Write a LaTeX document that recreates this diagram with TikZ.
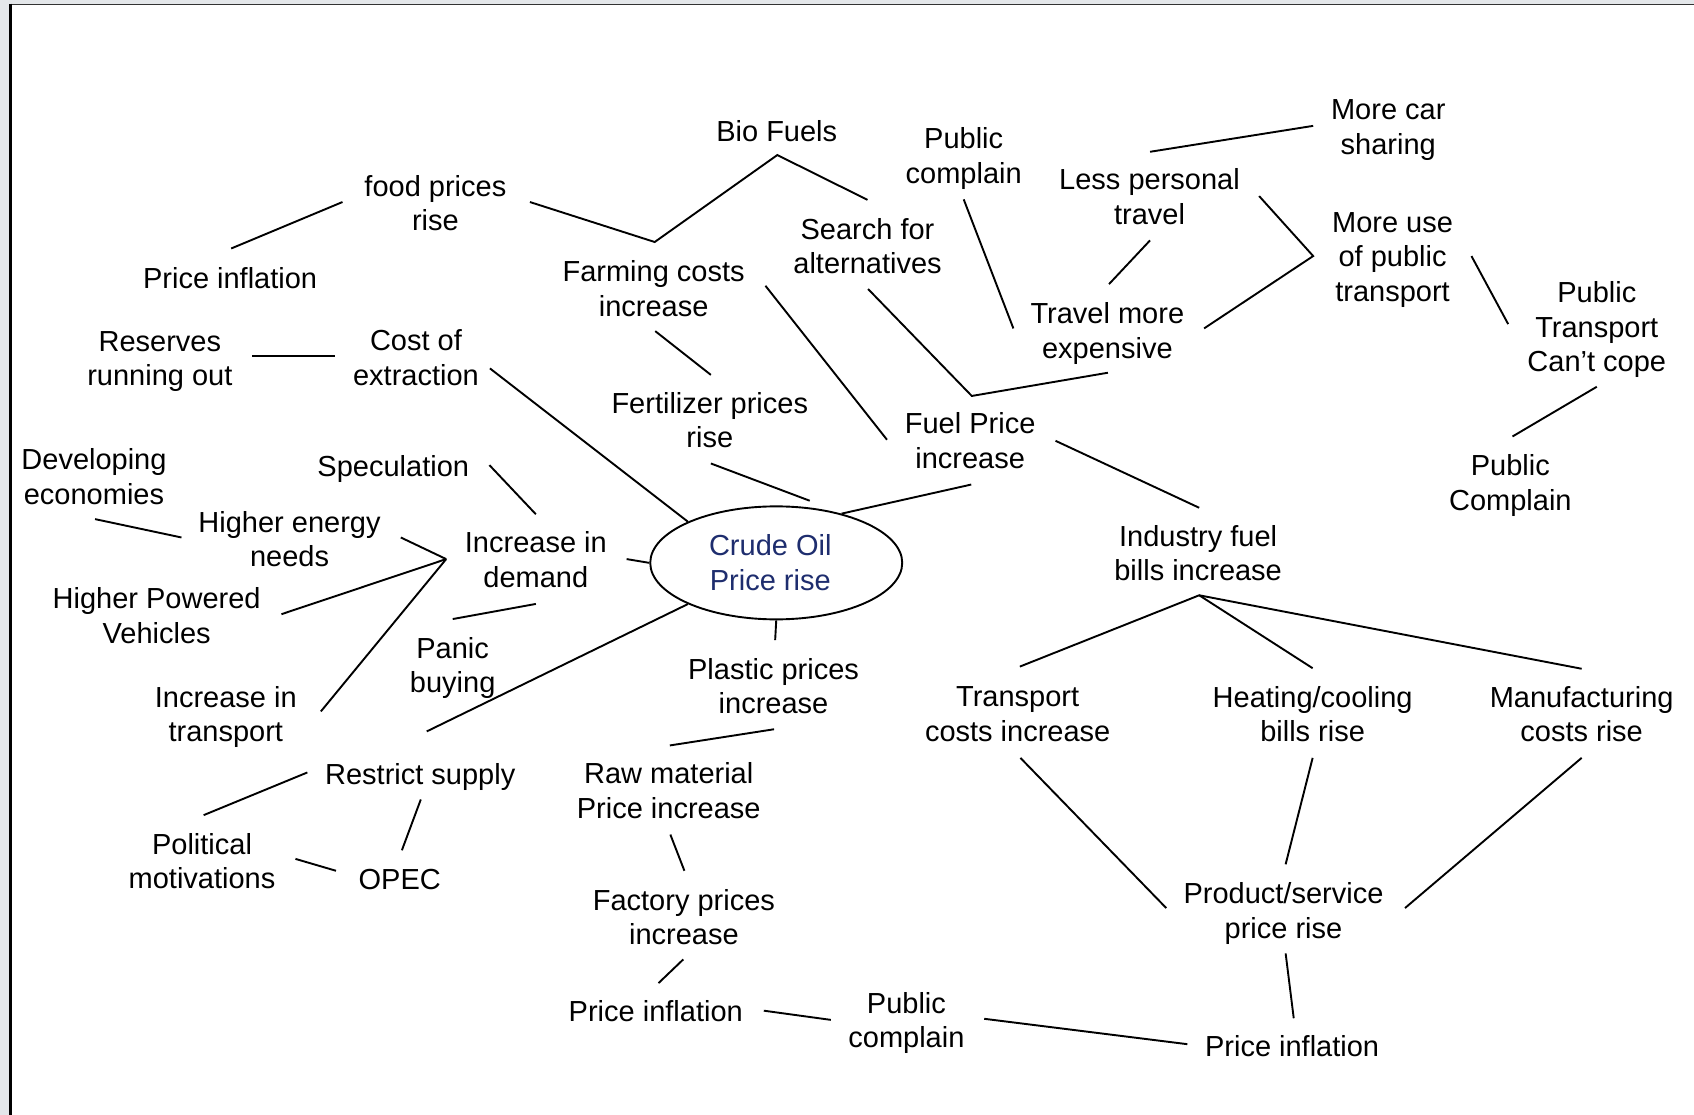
\documentclass[tikz,border=0pt]{standalone}
\usepackage{fontspec}
\setmainfont{Liberation Sans}
\usetikzlibrary{shapes.geometric}
\definecolor{framegray}{RGB}{228,231,234}
\definecolor{oilblue}{RGB}{30,45,110}
\begin{document}
\begin{tikzpicture}[x=1.0804pt,y=-1.0804pt,
  lbl/.style={align=center, inner sep=0pt, font={\fontsize{29}{34.5}\selectfont}},
  link/.style={line width=1.9pt}]
\useasboundingbox (0,0) rectangle (1568,1032);
% page frame
\fill[framegray] (0,0) rectangle (1568,1032);
\fill[white] (9.7,4) rectangle (1568,1032);
\draw[line width=1.2pt, black!80] (9.7,4) -- (1568,4);
\draw[line width=3pt, black] (9.7,3.4) -- (9.7,1032);

% central idea
\node[draw, ellipse, line width=1.9pt, minimum width=252pt, minimum height=113pt,
      inner sep=0pt] (crude) at (718.5,521) {};
\node[lbl, text=oilblue] (crudetext) at (713,521) {Crude Oil\\Price rise};

% labels
\node[lbl] (bio)        at (719,121)    {Bio Fuels};
\node[lbl] (pubc1)      at (892,146.5)  {Public\\complain};
\node[lbl] (carshare)   at (1285,120.5) {More car\\sharing};
\node[lbl] (lesstravel) at (1064,182)   {Less personal\\travel};
\node[lbl] (food)       at (403,188)    {food prices\\rise};
\node[lbl] (search)     at (803,228)    {Search for\\alternatives};
\node[lbl] (pubtrans)   at (1289,240.5) {More use\\of public\\transport};
\node[lbl] (inflA)      at (213,257)    {Price inflation};
\node[lbl] (farming)    at (605,267)    {Farming costs\\increase};
\node[lbl] (cantcope)   at (1478,305)   {Public\\Transport\\Can’t cope};
\node[lbl] (travelexp)  at (1025,308.5) {Travel more\\expensive};
\node[lbl] (reserves)   at (148,334.5)  {Reserves\\running out};
\node[lbl] (extraction) at (385,331)    {Cost of\\extraction};
\node[lbl] (fert)       at (657,389)    {Fertilizer prices\\rise};
\node[lbl] (fuel)       at (898,408)    {Fuel Price\\increase};
\node[lbl] (developing) at (87,441)     {Developing\\economies};
\node[lbl] (spec)       at (364,434)    {Speculation};
\node[lbl] (pubc2)      at (1398,449.5) {Public\\Complain};
\node[lbl] (energy)     at (268,499)    {Higher energy\\needs};
\node[lbl] (industry)   at (1109,512)   {Industry fuel\\bills increase};
\node[lbl] (demand)     at (496,518)    {Increase in\\demand};
\node[lbl] (vehicles)   at (145,570)    {Higher Powered\\Vehicles};
\node[lbl] (panic)      at (419,618.5)  {Panic\\buying};
\node[lbl] (plastic)    at (716,635)    {Plastic prices\\increase};
\node[lbl] (trcost)     at (942,661)    {Transport\\costs increase};
\node[lbl] (heating)    at (1215,661)   {Heating/cooling\\bills rise};
\node[lbl] (manuf)      at (1464,661)   {Manufacturing\\costs rise};
\node[lbl] (inctrans)   at (209,663.5)  {Increase in\\transport};
\node[lbl] (restrict)   at (389,719)    {Restrict supply};
\node[lbl] (raw)        at (619,732)    {Raw material\\Price increase};
\node[lbl] (political)  at (187,797)    {Political\\motivations};
\node[lbl] (opec)       at (370,814)    {OPEC};
\node[lbl] (factory)    at (633,849)    {Factory prices\\increase};
\node[lbl] (product)    at (1188,845.5) {Product/service\\price rise};
\node[lbl] (inflB)      at (607,936)    {Price inflation};
\node[lbl] (pubc3)      at (839,947)    {Public\\complain};
\node[lbl] (inflC)      at (1196,968)   {Price inflation};

% connector ends
\coordinate (inflA-n)      at (214,230);
\coordinate (food-w)       at (317,187);
\coordinate (food-e)       at (490.5,187);
\coordinate (farm-top)     at (606,224);
\coordinate (bio-s)        at (719.5,143.5);
\coordinate (search-n)     at (803,185);
\coordinate (reserves-e)   at (233.5,329.5);
\coordinate (extraction-w) at (310,329.5);
\coordinate (extraction-e) at (453.5,341);
\coordinate (farming-s)    at (606.5,306.5);
\coordinate (fert-n)       at (658,347);
\coordinate (farming-e)    at (708.5,264.5);
\coordinate (fuel-nw)      at (821,407);
\coordinate (search-s)     at (803.5,267.5);
\coordinate (fuel-n)       at (899.5,366.5);
\coordinate (travelexp-s)  at (1025.5,345);
\coordinate (pubc1-s)      at (892,184.5);
\coordinate (travelexp-nw) at (938,304);
\coordinate (lesstravel-s) at (1064.5,222.5);
\coordinate (travelexp-n)  at (1026.5,263);
\coordinate (lesstravel-n) at (1064.5,140.5);
\coordinate (carshare-w)   at (1215.5,116.5);
\coordinate (lesstravel-e) at (1165.5,181.5);
\coordinate (pubtrans-w)   at (1215.5,237);
\coordinate (travelexp-e)  at (1114.5,304);
\coordinate (pubtrans-e)   at (1362,237);
\coordinate (cantcope-w)   at (1396,300);
\coordinate (cantcope-s)   at (1478,358);
\coordinate (pubc2-n)      at (1400,404);
\coordinate (fert-s)       at (658,429);
\coordinate (crude-top)    at (749.5,463.5);
\coordinate (fuel-s)       at (899,448.5);
\coordinate (fuel-e)       at (977,408);
\coordinate (industry-n)   at (1110,470);
\coordinate (spec-e)       at (453,430.5);
\coordinate (demand-n)     at (496,476);
\coordinate (developing-s) at (88,480.5);
\coordinate (energy-w)     at (168,497.5);
\coordinate (energy-e)     at (371,497.5);
\coordinate (demand-hub)   at (413,517.5);
\coordinate (vehicles-e)   at (260.5,568.5);
\coordinate (inctrans-e)   at (297,658.5);
\coordinate (demand-e)     at (580,517.5);
\coordinate (demand-s)     at (496,559);
\coordinate (panic-n)      at (419,573);
\coordinate (restrict-n)   at (395,677);
\coordinate (plastic-n)    at (717.5,592.5);
\coordinate (plastic-s)    at (716.5,675);
\coordinate (raw-n)        at (620,690);
\coordinate (restrict-w)   at (284.5,715);
\coordinate (political-n)  at (188.5,754.5);
\coordinate (restrict-s)   at (389.5,740);
\coordinate (opec-n)       at (372,787);
\coordinate (political-e)  at (273.5,795);
\coordinate (opec-w)       at (311,806);
\coordinate (raw-s)        at (620.5,772.5);
\coordinate (factory-n)    at (633.5,806);
\coordinate (factory-s)    at (632.5,888);
\coordinate (inflB-n)      at (609.5,910);
\coordinate (inflB-e)      at (707,935.5);
\coordinate (pubc3-w)      at (769,944);
\coordinate (pubc3-e)      at (911,943);
\coordinate (inflC-w)      at (1099,966.5);
\coordinate (industry-hub) at (1110,551);
\coordinate (trcost-n)     at (944,617);
\coordinate (heating-n)    at (1215,618.5);
\coordinate (manuf-n)      at (1464,619);
\coordinate (trcost-s)     at (944.5,701.5);
\coordinate (product-w)    at (1079.5,840.5);
\coordinate (heating-s)    at (1215,701.5);
\coordinate (product-n)    at (1190,800);
\coordinate (manuf-s)      at (1464,701.5);
\coordinate (product-e)    at (1300.5,840.5);
\coordinate (product-s)    at (1190,882.5);
\coordinate (inflC-n)      at (1197.5,942.5);

% connectors
\draw[link] (inflA-n) -- (food-w);
\draw[link] (food-e) -- (farm-top) -- (bio-s) -- (search-n);
\draw[link] (reserves-e) -- (extraction-w);
\draw[link] (extraction-e) -- (crude.155);
\draw[link] (farming-s) -- (fert-n);
\draw[link] (farming-e) -- (fuel-nw);
\draw[link] (search-s) -- (fuel-n) -- (travelexp-s);
\draw[link] (pubc1-s) -- (travelexp-nw);
\draw[link] (lesstravel-s) -- (travelexp-n);
\draw[link] (lesstravel-n) -- (carshare-w);
\draw[link] (lesstravel-e) -- (pubtrans-w) -- (travelexp-e);
\draw[link] (pubtrans-e) -- (cantcope-w);
\draw[link] (cantcope-s) -- (pubc2-n);
\draw[link] (fert-s) -- (crude-top);
\draw[link] (crude.37) -- (fuel-s);
\draw[link] (fuel-e) -- (industry-n);
\draw[link] (spec-e) -- (demand-n);
\draw[link] (developing-s) -- (energy-w);
\draw[link] (energy-e) -- (demand-hub);
\draw[link] (vehicles-e) -- (demand-hub);
\draw[link] (inctrans-e) -- (demand-hub);
\draw[link] (demand-e) -- (crude.180);
\draw[link] (demand-s) -- (panic-n);
\draw[link] (crude.205) -- (restrict-n);
\draw[link] (crude.270) -- (plastic-n);
\draw[link] (plastic-s) -- (raw-n);
\draw[link] (restrict-w) -- (political-n);
\draw[link] (restrict-s) -- (opec-n);
\draw[link] (political-e) -- (opec-w);
\draw[link] (raw-s) -- (factory-n);
\draw[link] (factory-s) -- (inflB-n);
\draw[link] (inflB-e) -- (pubc3-w);
\draw[link] (pubc3-e) -- (inflC-w);
\draw[link] (trcost-n) -- (industry-hub) -- (heating-n);
\draw[link] (industry-hub) -- (manuf-n);
\draw[link] (trcost-s) -- (product-w);
\draw[link] (heating-s) -- (product-n);
\draw[link] (manuf-s) -- (product-e);
\draw[link] (product-s) -- (inflC-n);
\end{tikzpicture}
\end{document}
